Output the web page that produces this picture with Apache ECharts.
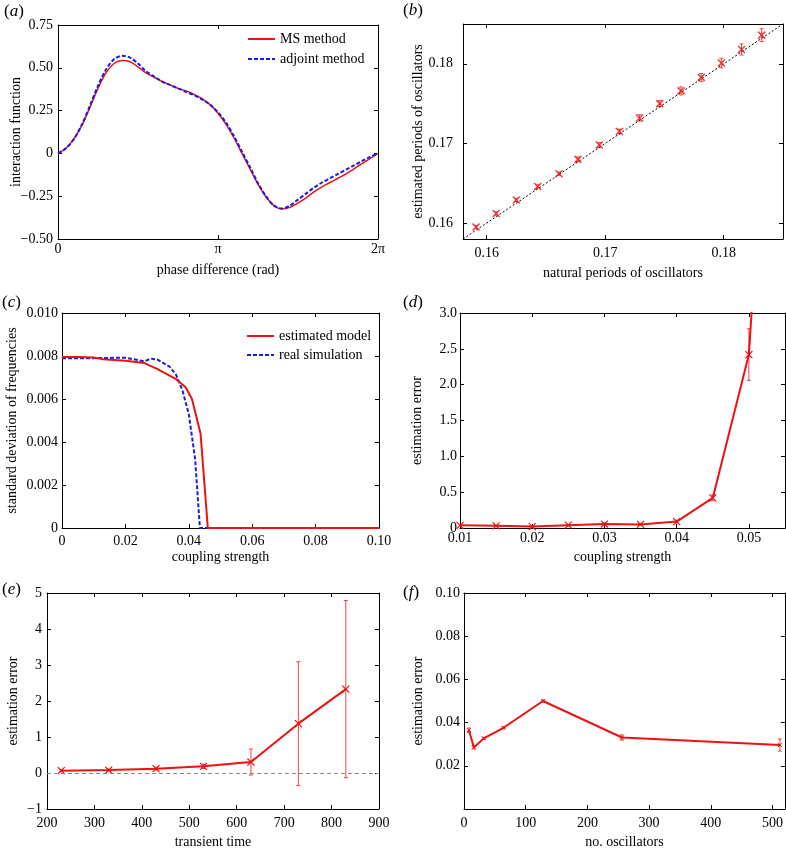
<!DOCTYPE html>
<html><head><meta charset="utf-8">
<script src="https://cdn.jsdelivr.net/npm/echarts@6/dist/echarts.min.js"></script>
<style>html,body{margin:0;padding:0;background:#fff}#c{width:786px;height:850px}</style>
</head><body><div id="c"></div>
<script>
// ---------- (a) interaction function ----------
const phaseA = [0,0.05,0.1,0.15,0.2,0.25,0.3,0.35,0.4,0.45,0.5,0.55,0.6,0.65,0.7,0.75,0.8,0.85,0.9,0.95,1.0,1.05,1.1,1.15,1.2,1.25,1.3,1.35,1.4,1.45,1.5,1.55,1.6,1.65,1.7,1.75,1.8,1.85,1.9,1.95,2.0]; // units of pi
const msA  = [0,0.03,0.085,0.165,0.27,0.38,0.47,0.525,0.543,0.535,0.505,0.47,0.445,0.42,0.40,0.38,0.365,0.345,0.32,0.285,0.235,0.17,0.09,0.0,-0.09,-0.18,-0.255,-0.305,-0.325,-0.315,-0.29,-0.26,-0.225,-0.195,-0.17,-0.145,-0.12,-0.09,-0.06,-0.03,0];
const adjA = [0,0.03,0.085,0.17,0.28,0.395,0.49,0.55,0.57,0.56,0.525,0.48,0.45,0.42,0.40,0.38,0.36,0.34,0.315,0.285,0.24,0.18,0.10,0.01,-0.08,-0.175,-0.25,-0.305,-0.322,-0.305,-0.27,-0.235,-0.2,-0.17,-0.145,-0.12,-0.095,-0.07,-0.045,-0.02,0];
const phaseTicks = [0,1,2];
const phaseLabels = ['0','\u03c0','2\u03c0'];

// ---------- (b) periods ----------
const natB = [0.1591,0.1608,0.1625,0.1643,0.1661,0.1677,0.1695,0.1712,0.1729,0.1746,0.1764,0.1781,0.1798,0.1815,0.1832];
const estB = [0.1595,0.1612,0.1629,0.1646,0.1662,0.1680,0.1698,0.1715,0.1732,0.1750,0.1766,0.1783,0.1801,0.1818,0.1836];
const sdB  = [0.0002,0.0002,0.0002,0.0002,0.0002,0.0003,0.0003,0.0003,0.0004,0.0004,0.0005,0.0005,0.0006,0.0007,0.0008];
const diagB = [0.158,0.185];
const ticksB = [0.16,0.17,0.18];

// ---------- (c) std of frequencies ----------
const kEstC = [0,0.005,0.01,0.013,0.02,0.026,0.03,0.036,0.039,0.041,0.0437,0.046,0.1];
const estC  = [0.00795,0.00795,0.00793,0.00785,0.00778,0.00767,0.00740,0.00692,0.00655,0.00600,0.00440,0,0];
const kRealC = [0,0.01,0.02,0.026,0.028,0.03,0.034,0.036,0.038,0.040,0.042,0.0435,0.1];
const realC  = [0.0079,0.0079,0.00792,0.00775,0.00788,0.00784,0.00750,0.00712,0.00640,0.00530,0.00320,0,0];

// ---------- (d) error vs coupling ----------
const kD   = [0.01,0.015,0.02,0.025,0.03,0.035,0.04,0.045,0.05,0.055];
const errD = [0.037,0.03,0.02,0.04,0.055,0.05,0.09,0.42,2.42,10.3];
const sdD  = [0.015,0.01,0.01,0.01,0.015,0.015,0.02,0.04,0.36,0];
const ticksDx = [0.01,0.02,0.03,0.04,0.05];

// ---------- (e) error vs transient time ----------
const tE   = [230,330,430,530,630,730,830];
const errE = [0.065,0.08,0.12,0.185,0.305,1.37,2.33];
const sdE  = [0.03,0.03,0.04,0.06,0.36,1.72,2.46];

// ---------- (f) error vs no. oscillators ----------
const nF   = [8,16,32,64,128,256,512];
const errF = [0.0365,0.0285,0.0327,0.0376,0.0500,0.0331,0.0296];
const sdF  = [0.001,0.0007,0.0005,0.0004,0.0005,0.0012,0.0028];
const ticksFx = [0,100,200,300,400,500];

// ---------- styling ----------
const FONT = '"Liberation Serif","Times New Roman",serif';
const RED = '#ee1111', BLUE = '#1c1ce0', ERR = '#ee4444';
const XSYM = 'path://M0,0L10,10M0,10L10,0';

const grids = [
  {left:58, top:25, width:320, height:214},
  {left:463, top:24, width:320, height:215},
  {left:62, top:313, width:317, height:215},
  {left:460, top:313, width:325, height:215},
  {left:47, top:593, width:332, height:216},
  {left:464, top:593, width:321, height:216}
];

function minusFmt(d){ return v => { if (Math.abs(v) < 1e-12) return '0'; return (v<0?'\u2212':'') + Math.abs(v).toFixed(d); }; }

function axes(kind, gi, o){
  const main = {
    type:'value', gridIndex:gi, position: kind==='x'?'bottom':'left',
    min:o.min, max:o.max, interval:o.interval,
    axisLine:{show:true,onZero:false,lineStyle:{color:'#000',width:1}},
    axisTick:{show:true,inside:true,length:4,lineStyle:{color:'#000'}},
    axisLabel:{show:true,color:'#000',fontFamily:FONT,fontSize:14,margin:o.margin,formatter:o.fmt,
      showMinLabel:o.showMin!==false, showMaxLabel:o.showMax!==false},
    splitLine:{show:false},
    name:o.name, nameLocation:'middle', nameGap:o.nameGap, nameMoveOverlap:false,
    nameTextStyle:{color:'#000',fontFamily:FONT,fontSize:14}
  };
  const sec = {
    type:'value', gridIndex:gi, position: kind==='x'?'top':'right',
    min:o.min, max:o.max, interval:o.interval,
    axisLine:{show:true,onZero:false,lineStyle:{color:'#000',width:1}},
    axisTick:{show:true,inside:true,length:4,lineStyle:{color:'#000'}},
    axisLabel:{show:false}, splitLine:{show:false}
  };
  if (o.ticks){
    main.axisTick.customValues = o.ticks; main.axisLabel.customValues = o.ticks;
    sec.axisTick.customValues = o.ticks;
  }
  return [main, sec];
}

const xAxes = [].concat(
  axes('x',0,{min:0,max:2,interval:1,margin:3,fmt:(v)=>phaseLabels[phaseTicks.indexOf(Math.round(v))]||'',name:'phase difference (rad)',nameGap:24}),
  axes('x',1,{min:0.158,max:0.185,ticks:ticksB,margin:7,fmt:v=>v.toFixed(2),name:'natural periods of oscillators',nameGap:27}),
  axes('x',2,{min:0,max:0.1,interval:0.02,margin:6,fmt:minusFmt(2),name:'coupling strength',nameGap:22}),
  axes('x',3,{min:0.01,max:0.055,ticks:ticksDx,margin:3,fmt:v=>v.toFixed(2),name:'coupling strength',nameGap:22}),
  axes('x',4,{min:200,max:900,interval:100,margin:7,fmt:v=>String(Math.round(v)),name:'transient time',nameGap:26}),
  axes('x',5,{min:0,max:520,ticks:ticksFx,margin:7,fmt:v=>String(Math.round(v)),name:'no. oscillators',nameGap:26})
);
const yAxes = [].concat(
  axes('y',0,{min:-0.5,max:0.75,interval:0.25,margin:5,fmt:minusFmt(2),name:'interaction function',nameGap:35}),
  axes('y',1,{min:0.158,max:0.185,ticks:ticksB,margin:10,fmt:v=>v.toFixed(2),name:'estimated periods of oscillators',nameGap:38}),
  axes('y',2,{min:0,max:0.01,interval:0.002,margin:4,fmt:minusFmt(3),name:'standard deviation of frequencies',nameGap:43}),
  axes('y',3,{min:0,max:3,interval:0.5,margin:3,fmt:minusFmt(1),name:'estimation error',nameGap:36}),
  axes('y',4,{min:-1,max:5,interval:1,margin:5,fmt:minusFmt(0),name:'estimation error',nameGap:27}),
  axes('y',5,{min:0,max:0.1,interval:0.02,margin:4,fmt:minusFmt(2),showMin:false,name:'estimation error',nameGap:39})
);

function errRender(color, cap){
  return function(params, api){
    const x = api.value(0), y = api.value(1), e = api.value(2);
    const a = api.coord([x, y + e]), b = api.coord([x, y - e]);
    const st = {stroke:color, lineWidth:1};
    return {type:'group', children:[
      {type:'line', shape:{x1:a[0],y1:a[1],x2:b[0],y2:b[1]}, style:st},
      {type:'line', shape:{x1:a[0]-cap,y1:a[1],x2:a[0]+cap,y2:a[1]}, style:st},
      {type:'line', shape:{x1:b[0]-cap,y1:b[1],x2:b[0]+cap,y2:b[1]}, style:st}
    ]};
  };
}
function errSeries(gi, xs, ys, es, name){
  return {type:'custom', name:name, xAxisIndex:2*gi, yAxisIndex:2*gi, clip:true, z:3,
    data: xs.map((x,i)=>[x, ys[i], es[i]]), encode:{x:0,y:1}, renderItem: errRender(ERR, 2), silent:true};
}
function pairs(xs, ys){ return xs.map((x,i)=>[x, ys[i]]); }

const series = [
  // (a)
  {type:'line', name:'MS method', xAxisIndex:0, yAxisIndex:0, data:pairs(phaseA,msA), smooth:0.3, symbol:'none', showSymbol:false,
   lineStyle:{color:RED,width:1.5}, itemStyle:{color:RED}, z:2},
  {type:'line', name:'adjoint method', xAxisIndex:0, yAxisIndex:0, data:pairs(phaseA,adjA), smooth:0.3, symbol:'none', showSymbol:false,
   lineStyle:{color:BLUE,width:2,type:[4,2]}, itemStyle:{color:BLUE}, z:3},
  // (b)
  {type:'line', name:'diagonal', xAxisIndex:2, yAxisIndex:2, data:pairs(diagB,diagB), symbol:'none',
   lineStyle:{color:'#000',width:1,type:[2,2]}},
  errSeries(1, natB, estB, sdB, 'errB'),
  {type:'scatter', name:'periods', xAxisIndex:2, yAxisIndex:2, data:pairs(natB,estB), symbol:XSYM, symbolSize:7,
   itemStyle:{color:'none',borderColor:RED,borderWidth:1.5}, z:4},
  // (c)
  {type:'line', name:'estimated model', xAxisIndex:4, yAxisIndex:4, data:pairs(kEstC,estC), symbol:'none', showSymbol:false,
   lineStyle:{color:RED,width:2}, itemStyle:{color:RED}, z:3},
  {type:'line', name:'real simulation', xAxisIndex:4, yAxisIndex:4, data:pairs(kRealC,realC), symbol:'none', showSymbol:false,
   lineStyle:{color:BLUE,width:2,type:[4,2]}, itemStyle:{color:BLUE}, z:2},
  // (d)
  errSeries(3, kD, errD, sdD, 'errD'),
  {type:'line', name:'errorD', xAxisIndex:6, yAxisIndex:6, data:pairs(kD,errD), symbol:XSYM, symbolSize:7, showSymbol:true,
   lineStyle:{color:RED,width:2}, itemStyle:{color:'none',borderColor:RED,borderWidth:1.2}, z:4},
  // (e)
  errSeries(4, tE, errE, sdE, 'errE'),
  {type:'line', name:'errorE', xAxisIndex:8, yAxisIndex:8, data:pairs(tE,errE), symbol:XSYM, symbolSize:7, showSymbol:true,
   lineStyle:{color:RED,width:2}, itemStyle:{color:'none',borderColor:RED,borderWidth:1.2}, z:4,
   markLine:{silent:true, symbol:'none', label:{show:false}, lineStyle:{color:'#888',width:1,type:[4,3]}, data:[{yAxis:0}]}},
  // (f)
  errSeries(5, nF, errF, sdF, 'errF'),
  {type:'line', name:'errorF', xAxisIndex:10, yAxisIndex:10, data:pairs(nF,errF), symbol:XSYM, symbolSize:4, showSymbol:true,
   lineStyle:{color:RED,width:2}, itemStyle:{color:'none',borderColor:RED,borderWidth:1}, z:4}
];

const letters = [
  {t:'a', x:4, y:3}, {t:'b', x:403, y:2},
  {t:'c', x:2, y:294}, {t:'d', x:403, y:294},
  {t:'e', x:2, y:581}, {t:'f', x:403, y:584}
];

const legendCommon = {orient:'vertical', itemWidth:27, itemHeight:14,
  itemStyle:{opacity:0, color:'rgba(0,0,0,0)', borderColor:'rgba(0,0,0,0)', borderWidth:0},
  textStyle:{color:'#000',fontFamily:FONT,fontSize:14}, selectedMode:false, padding:0};

const option = {
  animation:false,
  backgroundColor:'#fff',
  grid: grids.map(g => Object.assign({containLabel:false}, g)),
  xAxis: xAxes,
  yAxis: yAxes,
  legend: [
    Object.assign({}, legendCommon, {data:['MS method','adjoint method'], left:247, top:32, itemGap:6}),
    Object.assign({}, legendCommon, {data:['estimated model','real simulation'], left:246, top:329, itemGap:5})
  ],
  graphic: letters.map(l => ({type:'text', left:l.x, top:l.y, silent:true,
    style:{text:'{p|(}{i|'+l.t+'}{p|)}', rich:{
      p:{fontFamily:FONT,fontSize:17,fill:'#000'},
      i:{fontFamily:FONT,fontSize:17,fontStyle:'italic',fill:'#000'}}}})),
  series: series
};

const chart = echarts.init(document.getElementById('c'), null, {renderer:'canvas'});
chart.setOption(option);
</script>
</body></html>
